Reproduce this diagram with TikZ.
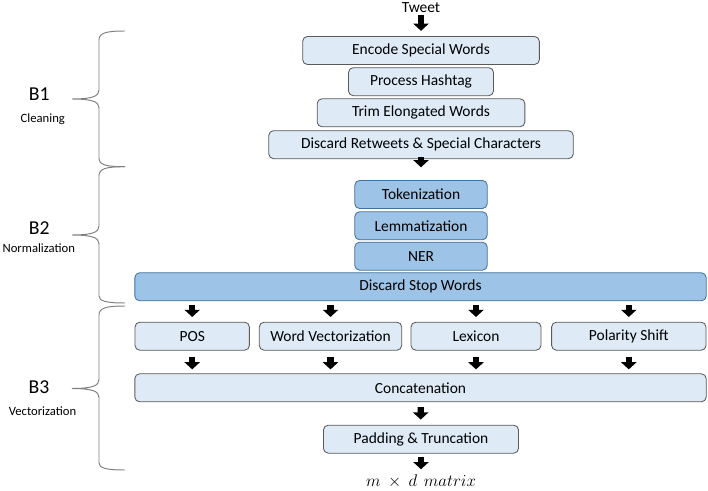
\documentclass[tikz,border=0pt]{standalone}
\usepackage{fontspec}
\setmainfont{Carlito}
\usetikzlibrary{arrows.meta}
\definecolor{boxlight}{HTML}{DEEBF7}
\definecolor{boxdark}{HTML}{9DC3E6}
\definecolor{edgedark}{HTML}{41719C}
\definecolor{edgegray}{HTML}{595959}
\tikzset{
  stepbox/.style={draw=edgegray, fill=boxlight, rounded corners=0.12cm, line width=0.6pt, minimum height=0.7cm, inner sep=0pt, font=\fontsize{11}{13}\selectfont},
  normbox/.style={stepbox, draw=edgedark, fill=boxdark},
  blockarrow/.style={line width=4.4pt, -{Triangle[width=0.38cm,length=0.18cm]}},
  bracket/.style={draw=black!50, line width=0.7pt},
  blocklabel/.style={font=\fontsize{14}{16}\selectfont},
  blocksub/.style={font=\fontsize{9}{11}\selectfont},
}

\begin{document}
\begin{tikzpicture}[x=0.025cm, y=-0.025cm]
\useasboundingbox (0,0) rectangle (708,491);
% B1: cleaning
\node[font=\fontsize{11}{13}\selectfont, inner sep=0pt] (tweet) at (421,7.5) {Tweet};
\node[stepbox, minimum width=5.915cm] (encode) at (421,50.5) {Encode Special Words};
\node[stepbox, minimum width=3.625cm] (hashtag) at (421,81.7) {Process Hashtag};
\node[stepbox, minimum width=5.19cm] (elongated) at (421,112.8) {Trim Elongated Words};
\node[stepbox, minimum width=7.61cm] (retweets) at (421,144.7) {Discard Retweets \& Special Characters};
% B2: normalization
\node[normbox, minimum width=3.31cm] (tokenize) at (421,194.5) {Tokenization};
\node[normbox, minimum width=3.31cm] (lemmatize) at (421,225.8) {Lemmatization};
\node[normbox, minimum width=3.31cm] (ner) at (421,256.2) {NER};
\node[normbox, minimum width=14.28cm] (stopwords) at (420.5,286.8) {Discard Stop Words};
% B3: vectorization
\node[stepbox, minimum width=2.86cm] (pos) at (192.2,336.2) {POS};
\node[stepbox, minimum width=3.56cm] (wordvec) at (330.5,336.2) {Word Vectorization};
\node[stepbox, minimum width=3.25cm] (lexicon) at (476,336.2) {Lexicon};
\node[stepbox, minimum width=3.86cm] (polarity) at (628.8,336.2) {Polarity Shift};
\node[stepbox, minimum width=14.28cm] (concat) at (420.5,387.8) {Concatenation};
\node[stepbox, minimum width=4.875cm] (padding) at (421,439.2) {Padding \& Truncation};
\node[inner sep=0pt, font=\fontsize{12}{14}\selectfont] (result) at (421,481.7) {$m\ \times\ d\ \, matrix$};

\draw[blockarrow, shorten <=0.06cm, shorten >=0.13cm] (tweet) -- (encode);
\draw[blockarrow, shorten <=-0.05cm, shorten >=0.32cm] (retweets) -- (tokenize);
\draw[blockarrow, shorten <=0.1cm, shorten >=0.12cm] (pos |- stopwords.south) -- (pos);
\draw[blockarrow, shorten <=0.1cm, shorten >=0.12cm] (wordvec |- stopwords.south) -- (wordvec);
\draw[blockarrow, shorten <=0.1cm, shorten >=0.12cm] (lexicon |- stopwords.south) -- (lexicon);
\draw[blockarrow, shorten <=0.1cm, shorten >=0.12cm] (polarity |- stopwords.south) -- (polarity);
\draw[blockarrow, shorten <=0.15cm, shorten >=0.1cm] (pos) -- (pos |- concat.north);
\draw[blockarrow, shorten <=0.15cm, shorten >=0.1cm] (wordvec) -- (wordvec |- concat.north);
\draw[blockarrow, shorten <=0.15cm, shorten >=0.1cm] (lexicon) -- (lexicon |- concat.north);
\draw[blockarrow, shorten <=0.15cm, shorten >=0.1cm] (polarity) -- (polarity |- concat.north);
\draw[blockarrow, shorten <=0.12cm, shorten >=0.13cm] (concat) -- (padding);
\draw[blockarrow, shorten <=0.08cm, shorten >=0.14cm] (padding) -- (result);

% braces
\draw[bracket] (125,31) .. controls (106,31) and (99,33) .. (99,40) -- (99,90) .. controls (99,96) and (93,99) .. (72,99) .. controls (93,99) and (99,102) .. (99,108) -- (99,158) .. controls (99,165) and (106,166.7) .. (125,166.7);
\draw[bracket] (125,166.7) .. controls (106,166.7) and (99,168.7) .. (99,175.7) -- (99,226) .. controls (99,232) and (93,235) .. (72,235) .. controls (93,235) and (99,238) .. (99,244) -- (99,296) .. controls (99,301) and (106,303) .. (125,303);
\draw[bracket] (125,306) .. controls (106,306) and (99,308) .. (99,315) -- (99,379.5) .. controls (99,385.5) and (93,388.5) .. (72,388.5) .. controls (93,388.5) and (99,391.5) .. (99,397.5) -- (99,463) .. controls (99,468) and (106,470) .. (125,470);
\node[blocklabel] (b1) at (39.3,94) {B1};
\node[blocksub] (b1sub) at (42.8,119) {Cleaning};
\node[blocklabel] (b2) at (39.3,228.3) {B2};
\node[blocksub] (b2sub) at (38.8,248.3) {Normalization};
\node[blocklabel] (b3) at (39,386.7) {B3};
\node[blocksub] (b3sub) at (42.5,410.7) {Vectorization};
\end{tikzpicture}
\end{document}
